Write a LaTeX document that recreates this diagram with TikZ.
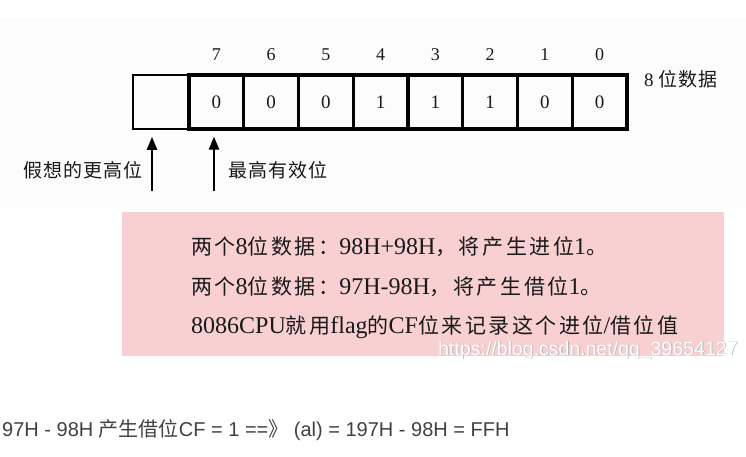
\documentclass[tikz,border=0pt]{standalone}
\usepackage{fontspec}
\setmainfont{Liberation Serif}
\setsansfont{Liberation Sans}
\newfontfamily\cjk{Noto Sans CJK SC}
\newfontfamily\cjklbl[LetterSpace=6]{Noto Sans CJK SC}
\newfontfamily\cjksp[Scale=0.875,LetterSpace=12]{Noto Sans CJK SC}
\usetikzlibrary{arrows.meta,positioning}

\definecolor{notepink}{RGB}{248,208,210}
\definecolor{scanink}{RGB}{25,25,25}
\definecolor{webgray}{RGB}{64,64,64}

\newcommand{\zh}[1]{{\cjk #1}}
\newcommand{\zhl}[1]{{\cjklbl #1}}
\newcommand{\zhs}[1]{{\cjksp #1}}

\tikzset{
  bitbox/.style={draw=black, line width=3.2pt, minimum width=54.75pt,
    minimum height=54pt, inner sep=0pt, text=scanink,
    font=\fontsize{19}{19}\selectfont},
  sparebox/.style={draw=black, line width=1.6pt, minimum width=56pt,
    minimum height=54pt, inner sep=0pt},
  bitnum/.style={text=scanink, font=\fontsize{18}{18}\selectfont},
  lbl/.style={text=scanink, inner sep=0pt, font=\fontsize{19}{19}\selectfont},
  uparrow/.style={draw=black, line width=2.2pt,
    -{Triangle[width=10pt,length=13pt]}},
  noteline/.style={anchor=west, inner sep=0pt, text=scanink,
    font=\fontsize{24}{24}\selectfont},
  wmark/.style={inner sep=0pt, font=\sffamily\fontsize{19.5}{19.5}\selectfont},
}

\begin{document}
\begin{tikzpicture}[x=1pt,y=-1pt]
    \useasboundingbox (0,0) rectangle (746,456);

    % Scanned figure background
    \fill[black!1] (0,18) rectangle (746,208);

    % Imaginary higher bit
    \node[sparebox] (bx) at (161,102) {};

    % Data bits 7..0
    \foreach \v [count=\i] in {0,0,0,1,1,1,0,0} {
        \pgfmathtruncatemacro{\bit}{8-\i}
        \node[bitbox] (b\bit) at ({189+54.75*(\i-0.5)},102) {\v};
        \node[bitnum] (n\bit) at ({189+54.75*(\i-0.5)},55) {\bit};
    }

    % Width label
    \node[lbl, anchor=west] (width) at (644,79) {8 \zhl{位数据}};

    % Pointers
    \coordinate (hbase) at (152,191);
    \coordinate (mbase) at (214,191);
    \draw[uparrow, shorten >=7pt] (hbase) -- (hbase |- bx.south);
    \draw[uparrow, shorten >=6pt] (mbase) -- (mbase |- b7.south);
    \node[lbl, anchor=east] (hyp) at (143,170) {\zhl{假想的更高位}};
    \node[lbl, anchor=west] (msb) at (228,170) {\zhl{最高有效位}};

    % Note
    \node[fill=notepink, minimum width=602pt, minimum height=144pt,
        inner sep=0pt] (note) at (423,284) {};
    \node[noteline] (l1) at (191,247)
        {\zhs{两个}8\zhs{位数据：}98H+98H\zhs{，将产生进位}1\zhs{。}};
    \node[noteline] (l2) at (191,287)
        {\zhs{两个}8\zhs{位数据：}97H-98H\zhs{，将产生借位}1\zhs{。}};
    \node[noteline] (l3) at (191,327)
        {8086CPU\zhs{就用}flag\zhs{的}CF\zhs{位来记录这个进位}/\zhs{借位值}};

    % Watermark
    \node[wmark, text=black!30] (wms) at (588.8,350.8) {https://blog.csdn.net/qq\_39654127};
    \node[wmark, text=white] (wm) at (588,350) {https://blog.csdn.net/qq\_39654127};

    % Result
    \node[anchor=west, inner sep=0pt, text=webgray,
        font=\sffamily\fontsize{20}{20}\selectfont] (calc) at (2,430)
        {97H - 98H \zh{产生借位}CF = 1 ==\zh{》} (al) = 197H - 98H = FFH};
\end{tikzpicture}
\end{document}
